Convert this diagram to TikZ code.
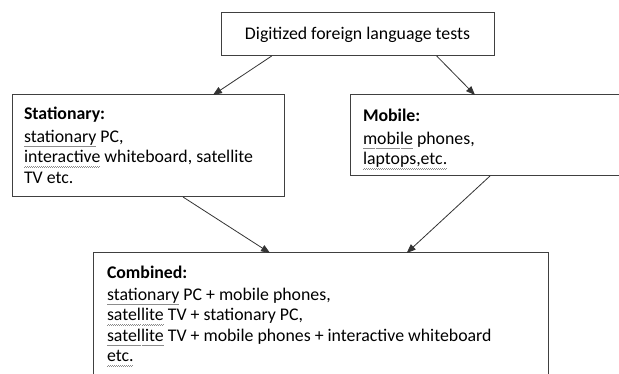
\documentclass[tikz,border=0pt]{standalone}
\usepackage{fontspec}
\setmainfont{Carlito}
\usetikzlibrary{arrows.meta}
\newsavebox\sqbox
\newcommand\sqw[1]{\leavevmode\sbox\sqbox{#1}\rlap{\color{black!45}\raisebox{-4.5pt}[0pt][0pt]{\hbox to \wd\sqbox{\xleaders\hbox{\rule[0pt]{1pt}{0.7pt}\rule[0.7pt]{1pt}{0.7pt}}\hfill}}}\usebox\sqbox}
\begin{document}
\begin{tikzpicture}[x=1pt,y=-1pt,
 box/.style={draw=black!75,line width=1pt,inner sep=0pt,outer sep=0pt,anchor=north west},
 txt/.style={anchor=base west,align=left,inner sep=0pt,outer sep=0pt,font=\fontsize{17.8}{20.5}\selectfont},
 arr/.style={draw=black!80,line width=0.8pt,-{Triangle[length=9pt,width=7pt]}}]
\clip (0,0) rectangle (619,374);
\fill[white] (0,0) rectangle (619,374);
\node[box,minimum width=273pt,minimum height=43pt] (top) at (221,13) {};
\node[inner sep=0pt,font=\fontsize{17.8}{20.5}\selectfont] (toptxt) at (top.center) {Digitized foreign language tests};
\node[box,minimum width=272pt,minimum height=102pt] (stat) at (12,95) {};
\node[txt] (stattxt) at (24,183.5) {\textbf{Stationary:}\\[2pt] \sqw{stationary} PC,\\ \sqw{interactive} whiteboard, satellite\\ TV etc.};
\node[box,minimum width=300pt,minimum height=81pt] (mob) at (350,95) {};
\node[txt] (mobtxt) at (363,165) {\textbf{Mobile:}\\[2pt] \sqw{mobile} phones,\\ \sqw{laptops,etc.}};
\node[box,minimum width=455pt,minimum height=150pt] (comb) at (93,253) {};
\node[txt] (combtxt) at (107,362) {\textbf{Combined:}\\[2pt] \sqw{stationary} PC + mobile phones,\\ \sqw{satellite} TV + stationary PC,\\ \sqw{satellite} TV + mobile phones + interactive whiteboard\\ \sqw{etc.}};
\draw[arr] ([xshift=50.7pt]top.south west) -- ([xshift=201pt]stat.north west);
\draw[arr] ([xshift=215.7pt]top.south west) -- ([xshift=125pt]mob.north west);
\draw[arr] ([xshift=171pt]stat.south west) -- ([xshift=177pt]comb.north west);
\draw[arr] ([xshift=140pt]mob.south west) -- ([xshift=313.7pt]comb.north west);
\end{tikzpicture}
\end{document}
